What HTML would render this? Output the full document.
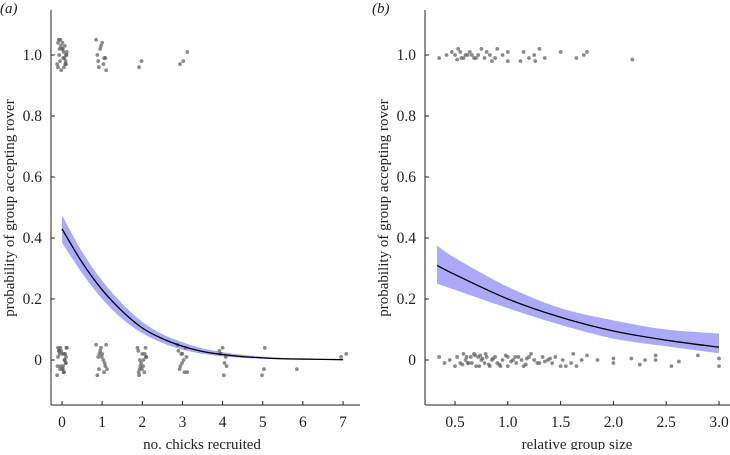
<!DOCTYPE html>
<html><head><meta charset="utf-8"><style>
body{margin:0;background:#fff;}
svg{font-family:"Liberation Serif",serif;}
</style></head><body>
<svg id="c" width="730" height="450"></svg>
<script>
// Panel a data
const aCatX=[0,0.5,1,1.5,2,2.5,3,3.5,4,4.5,5,5.5,6,6.5,7];
const aFit=[0.43,0.32,0.23,0.16,0.105,0.07,0.045,0.028,0.018,0.011,0.007,0.004,0.003,0.002,0.001];
const aLow=[0.385,0.285,0.2,0.135,0.088,0.056,0.034,0.02,0.012,0.007,0.004,0.002,0.001,0.001,0.0];
const aHigh=[0.475,0.355,0.26,0.185,0.125,0.085,0.058,0.038,0.026,0.017,0.011,0.007,0.005,0.003,0.002];
const aPtX=[-0.1,-0.05,0,0.05,0.1,-0.08,0.03,0.12,-0.12,0.07,-0.02,0.09,-0.06,0.01,0.11,-0.1,0.04,0.08,-0.03,0.06,-0.07,0.02,0.1,-0.04,
 -0.1,-0.05,0,0.05,0.1,-0.08,0.03,0.12,-0.12,0.07,-0.02,0.09,-0.06,0.01,0.11,-0.1,0.04,0.08,-0.03,0.06,-0.07,0.02,0.1,-0.04,-0.11,0.05,
 0.85,0.92,1.0,1.05,1.1,0.9,0.95,1.08,0.88,1.03,0.97,
 0.85,0.92,1.0,1.05,1.1,0.9,0.95,1.08,0.88,1.03,0.97,1.12,0.93,0.99,1.06,
 1.88,1.93,2.0,2.05,2.1,1.9,1.95,2.08,1.92,2.03,1.97,1.99,2.06,1.91,1.94,2.02,2.09,
 1.92,1.98,2.94,3.02,3.12,
 2.88,2.93,3.0,3.05,3.1,2.9,2.95,3.08,3.12,3.03,2.97,2.99,
 3.92,4.0,4.05,4.1,3.95,4.08,4.03,
 4.98,5.03,5.05,5.85,6.95,7.08];
const aPtY=[1.04,0.98,1.02,0.96,1.0,1.05,0.99,1.01,0.97,1.03,0.95,0.98,1.02,1.04,1.0,0.96,1.01,0.97,1.03,0.99,1.0,1.02,0.97,1.05,
 0.04,-0.03,0.02,-0.04,0.01,0.03,-0.02,0.04,-0.05,0.0,0.03,-0.01,0.02,-0.03,0.04,0.01,-0.04,0.02,-0.02,0.0,0.03,-0.03,-0.01,0.04,-0.02,0.02,
 1.05,0.96,1.04,0.99,0.95,0.98,1.02,0.99,1.0,0.97,1.03,
 0.05,-0.03,0.02,-0.04,0.05,0.01,0.03,-0.02,-0.05,0.0,0.04,-0.03,0.02,0.01,-0.01,
 0.04,-0.03,0.02,-0.04,0.01,0.03,-0.02,0.04,-0.05,0.0,-0.01,-0.03,0.02,-0.04,0.0,-0.02,0.01,
 0.96,0.98,0.97,0.98,1.01,
 0.05,-0.03,0.02,-0.04,0.01,0.03,-0.02,0.04,-0.04,0.0,0.02,-0.01,
 0.03,0.04,-0.01,-0.02,0.02,0.01,-0.05,
 -0.05,-0.03,0.04,-0.03,0.01,0.02];
const aTicksX=["0","1","2","3","4","5","6","7"];
// Panel b data
const bCatX=[0.33,0.5,1.0,1.5,2.0,2.5,3.0];
const bFit=[0.31,0.28,0.2,0.14,0.095,0.065,0.042];
const bLow=[0.25,0.23,0.17,0.115,0.07,0.045,0.022];
const bHigh=[0.375,0.335,0.24,0.17,0.13,0.1,0.087];
const bPtX=[0.35,0.42,0.47,0.5,0.53,0.56,0.6,0.64,0.68,0.72,0.75,0.8,0.85,0.9,0.95,1.0,1.0,1.15,1.2,1.25,1.3,1.35,1.5,1.65,1.72,1.75,2.18,0.52,0.58,0.66,0.78,0.88,1.12,1.26,0.55,0.62,0.7,0.83,
 0.35,0.4,0.45,0.5,0.52,0.55,0.58,0.6,0.63,0.65,0.68,0.7,0.72,0.75,0.78,0.8,0.83,0.85,0.88,0.9,0.95,1.0,1.0,1.05,1.08,1.1,1.13,1.15,1.2,1.25,1.3,1.33,1.38,1.42,1.45,1.5,1.52,1.6,1.65,1.7,1.75,1.85,2.0,2.0,2.17,2.25,2.3,2.4,2.4,2.55,2.62,2.8,3.0,3.0,0.62,0.74,0.92,1.18,1.35,1.62,
 0.57,0.61,0.66,0.69,0.73,0.76,0.79,0.82,0.86,0.93,0.98,1.03,1.07,1.17,1.22,1.28,1.4,1.55];
const bPtY=[0.99,1.0,1.01,1.0,1.02,0.99,1.0,1.01,0.99,1.0,1.02,1.01,0.98,1.02,1.0,0.98,1.01,1.01,0.99,1.0,1.02,0.99,1.01,0.99,1.0,1.01,0.985,0.985,0.99,1.0,0.99,0.99,0.98,0.98,1.01,1.0,0.99,1.0,
 0.01,-0.01,0.0,-0.02,0.01,-0.01,0.02,0.0,-0.01,0.01,0.02,-0.02,0.01,0.0,-0.01,0.01,-0.02,0.0,0.01,-0.01,0.0,0.01,-0.02,0.0,-0.01,0.01,0.0,-0.02,0.01,0.0,-0.01,0.01,0.0,-0.01,0.01,-0.02,0.0,-0.01,-0.02,0.0,0.015,0.0,-0.01,0.005,0.005,-0.015,0.0,0.015,0.0,-0.02,-0.005,0.015,-0.02,0.005,-0.01,0.015,-0.015,0.005,-0.005,0.02,
 -0.015,0.01,-0.01,0.015,-0.02,0.005,0.02,-0.015,0.005,-0.02,0.015,-0.005,0.01,-0.015,0.02,-0.01,0.005,-0.02];
const bTicksX=["0.5","1.0","1.5","2.0","2.5","3.0"];
const bTickVals=[0.5,1.0,1.5,2.0,2.5,3.0];
const yTicks=[0,0.2,0.4,0.6,0.8,1.0];
const yTickLabels=["0","0.2","0.4","0.6","0.8","1.0"];

const NS="http://www.w3.org/2000/svg";
const svg=document.getElementById('c');
function mk(t,a,p){const e=document.createElementNS(NS,t);for(const k in a)e.setAttribute(k,a[k]);(p||svg).appendChild(e);return e;}
const yS=v=>360-v*305;
function smooth(pts,start){
  let d=(start?'M':'L')+pts[0][0]+','+pts[0][1];
  for(let i=0;i<pts.length-1;i++){
    const p0=pts[Math.max(i-1,0)],p1=pts[i],p2=pts[i+1],p3=pts[Math.min(i+2,pts.length-1)];
    const c1=[p1[0]+(p2[0]-p0[0])/6,p1[1]+(p2[1]-p0[1])/6];
    const c2=[p2[0]-(p3[0]-p1[0])/6,p2[1]-(p3[1]-p1[1])/6];
    d+='C'+c1[0]+','+c1[1]+' '+c2[0]+','+c2[1]+' '+p2[0]+','+p2[1];
  }
  return d;
}

function panel(cfg){
  const g=mk('g',{});
  
  
  const xS=cfg.xS;
  const hiPts=cfg.cx.map((x,i)=>[xS(x),yS(cfg.hi[i])]);
  const loPts=cfg.cx.map((x,i)=>[xS(x),yS(cfg.lo[i])]).reverse();
  const band=mk('path',{d:smooth(hiPts,true)+smooth(loPts,false)+'Z',fill:'#aaaaf8',stroke:'none'},g);
  
  
  cfg.px.forEach((x,i)=>{
    const c=mk('circle',{cx:xS(x),cy:yS(cfg.py[i]),r:1.9,fill:'#5a5a5a','fill-opacity':0.7},g);
    
    
  });
  const fitPts=cfg.cx.map((x,i)=>[xS(x),yS(cfg.fit[i])]);
  const line=mk('path',{d:smooth(fitPts,true),fill:'none',stroke:'#000','stroke-width':1.3},g);
  
  
  const ax=cfg.axX;
  const yl=mk('line',{x1:ax,y1:10,x2:ax,y2:405,stroke:'#222','stroke-width':1},g);
  
  
  const xl=mk('line',{x1:ax,y1:405,x2:cfg.axEnd,y2:405,stroke:'#222','stroke-width':1},g);
  
  
  yTicks.forEach((v,i)=>{
    mk('line',{x1:ax,y1:yS(v),x2:ax+4,y2:yS(v),stroke:'#222'},g);
    const t=mk('text',{x:ax-9,y:yS(v)+5,'text-anchor':'end','font-size':15.5,fill:'#222'},g);
    t.textContent=yTickLabels[i];
    
    
  });
  cfg.tv.forEach((v,i)=>{
    mk('line',{x1:xS(v),y1:405,x2:xS(v),y2:401,stroke:'#222'},g);
    const t=mk('text',{x:xS(v),y:427,'text-anchor':'middle','font-size':15.5,fill:'#222'},g);
    t.textContent=cfg.tl[i];
    
    
  });
  const xt=mk('text',{x:cfg.xtX,y:449,'text-anchor':'middle','font-size':15,fill:'#222'},g);
  xt.textContent=cfg.xt;
  
  
  const yt=mk('text',{x:0,y:0,'text-anchor':'middle','font-size':15,fill:'#222',transform:'translate('+cfg.ytX+',208) rotate(-90)'},g);
  yt.textContent='probability of group accepting rover';
  
  
  const pl=mk('text',{x:cfg.plX,y:13,'font-size':15,'font-style':'italic',fill:'#222'},g);
  pl.textContent=cfg.pl;
  
  
}
panel({name:'panel-a',xS:v=>62+v*40.15,cx:aCatX,fit:aFit,lo:aLow,hi:aHigh,px:aPtX,py:aPtY,
  axX:51,axEnd:360,tv:[0,1,2,3,4,5,6,7],tl:aTicksX,xt:'no. chicks recruited',xtX:202,ytX:14,pl:'(a)',plX:0});
panel({name:'panel-b',xS:v=>455+(v-0.5)*105.6,cx:bCatX,fit:bFit,lo:bLow,hi:bHigh,px:bPtX,py:bPtY,
  axX:425,axEnd:730,tv:bTickVals,tl:bTicksX,xt:'relative group size',xtX:577,ytX:388,pl:'(b)',plX:372});
</script>
</body></html>
